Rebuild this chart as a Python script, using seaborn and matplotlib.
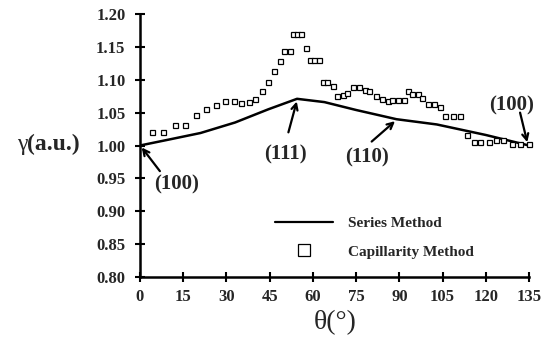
import matplotlib
matplotlib.use("Agg")
import matplotlib.pyplot as plt
from matplotlib.lines import Line2D
import seaborn as sns
import pandas as pd

# ---- data ----
series_theta = [0, 10, 21, 33, 44.5, 54.5, 64, 75, 89, 103, 120, 135]
series_gamma = [1.000, 1.009, 1.019, 1.035, 1.055, 1.071, 1.066, 1.054, 1.040, 1.032, 1.016, 1.000]

cap_theta = [4.0, 8.0, 12.0, 15.5, 19.5, 23.0, 26.5, 29.5, 32.5, 35.0, 38.0, 40.0,
             42.5, 44.5, 46.5, 48.5, 50.0, 52.0, 53.0, 54.5, 56.0, 57.5, 59.0, 60.5,
             62.0, 63.5, 65.0, 67.0, 68.5, 70.5, 72.0, 74.0, 76.0, 78.0, 79.5, 82.0,
             84.0, 86.0, 87.5, 89.5, 91.5, 93.0, 94.5, 96.5, 98.0, 100.0, 102.0, 104.0,
             106.0, 108.5, 111.0, 113.5, 116.0, 118.0, 121.0, 123.5, 126.0, 129.0, 132.0, 135.0]
cap_gamma = [1.020, 1.021, 1.031, 1.031, 1.047, 1.055, 1.062, 1.068, 1.068, 1.064, 1.066, 1.070,
             1.083, 1.097, 1.114, 1.128, 1.144, 1.144, 1.169, 1.169, 1.169, 1.149, 1.130, 1.130,
             1.130, 1.096, 1.096, 1.090, 1.076, 1.077, 1.080, 1.089, 1.089, 1.085, 1.083, 1.076,
             1.070, 1.067, 1.069, 1.069, 1.069, 1.083, 1.079, 1.079, 1.072, 1.063, 1.063, 1.058,
             1.045, 1.045, 1.045, 1.016, 1.006, 1.005, 1.006, 1.009, 1.008, 1.003, 1.002, 1.002]

x_ticks = [0, 15, 30, 45, 60, 75, 90, 105, 120, 135]
y_ticks = [0.80, 0.85, 0.90, 0.95, 1.00, 1.05, 1.10, 1.15, 1.20]

annotations = [
    ("(100)", (0.6, 0.997), (6.9, 0.961), (12.7, 0.940)),
    ("(111)", (54.4, 1.067), (51.5, 1.020), (50.3, 0.986)),
    ("(110)", (88.5, 1.037), (80.4, 1.006), (78.7, 0.982)),
    ("(100)", (134.4, 1.005), (131.9, 1.050), (128.8, 1.061)),
]

sns.set_style("ticks")
plt.rcParams['font.family'] = ['Liberation Serif', 'DejaVu Serif']

fig = plt.figure(figsize=(5.6, 3.4), dpi=100)
ax = fig.add_axes([140/560, 1-277/340, 389/560, 263/340])

df_s = pd.DataFrame({"theta": series_theta, "gamma": series_gamma})
df_c = pd.DataFrame({"theta": cap_theta, "gamma": cap_gamma})

sns.lineplot(data=df_s, x="theta", y="gamma", ax=ax, color="black", lw=1.8, zorder=3)
ax.plot(df_c["theta"], df_c["gamma"], ls="none", marker="s", ms=3.6, mfc="white",
        mec="black", mew=0.9, zorder=4, clip_on=False)

ax.set_xlim(0, 135)
ax.set_ylim(0.80, 1.20)
ax.set_xticks(x_ticks)
ax.set_yticks(y_ticks)
ax.set_xticklabels([str(t) for t in x_ticks], fontsize=12, fontweight="bold")
ax.set_yticklabels([f"{t:.2f}" for t in y_ticks], fontsize=12, fontweight="bold")
ax.tick_params(direction="inout", length=7, width=1.5, color="black", pad=5)
ax.tick_params(axis="y", pad=7)
for s in ["top", "right"]:
    ax.spines[s].set_visible(False)
for s in ["left", "bottom"]:
    ax.spines[s].set_linewidth(1.8)
    ax.spines[s].set_color("black")
ax.set_xlabel("")
ax.set_ylabel("")

for lab, tip, tail, txt in annotations:
    ax.annotate("", xy=tip, xytext=tail,
                arrowprops=dict(arrowstyle="->", lw=1.6, color="black", mutation_scale=11,
                                shrinkA=0, shrinkB=0))
    ax.text(txt[0], txt[1], lab, ha="center", va="center", fontsize=15, fontweight="bold")

# axis labels
fig.text(27/560, 1-144/340, "γ", ha="right", va="center", fontsize=17)
fig.text(27/560, 1-144/340, "(a.u.)", ha="left", va="center", fontsize=17, fontweight="bold")
fig.text(335/560, 1-323/340, "θ(°)", ha="center", va="center", fontsize=20)

handles = [Line2D([], [], color="black", lw=1.6),
           Line2D([], [], ls="none", marker="s", ms=9, mfc="white", mec="black", mew=0.9)]
ax.legend(handles, ["Series Method", "Capillarity Method"], loc="center left",
          bbox_to_anchor=(0.347, 0.150), frameon=False, borderpad=0, borderaxespad=0,
          handlelength=3.8, handletextpad=1.0, labelspacing=0.95,
          prop=dict(family="Liberation Serif", weight="bold", size=11))

fig.savefig("out.png", dpi=100)
